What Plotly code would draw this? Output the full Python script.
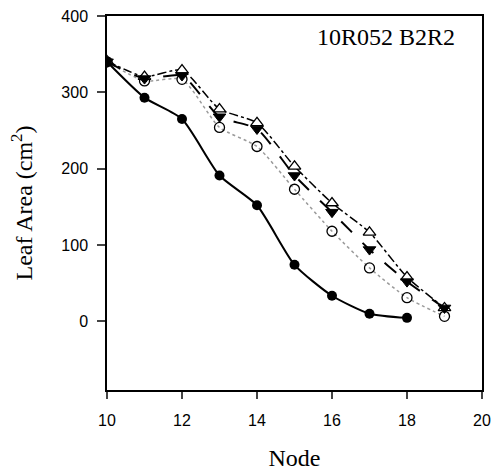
import plotly.graph_objects as go

nodes_a = [10, 11, 12, 13, 14, 15, 16, 17, 18]
filled_circle = [340, 293, 265, 191, 152, 74, 33.5, 10, 4.5]

nodes_b = [10, 11, 12, 13, 14, 15, 16, 17, 18, 19]
open_circle = [340, 315, 317, 254, 229, 173, 118, 70, 31, 6.5]
filled_tri = [340, 318, 322, 268, 252, 191, 143, 94, 52, 17.5]
open_tri = [341, 320.5, 329, 278, 260, 203, 155, 116.5, 58, 17.5]

x_ticks = [10, 12, 14, 16, 18, 20]
y_ticks = [0, 100, 200, 300, 400]

SERIF = "Liberation Serif, Times New Roman, serif"
SANS = "Liberation Sans, Arial, sans-serif"

fig = go.Figure()

fig.add_trace(go.Scatter(
    x=nodes_b, y=open_circle, mode="lines+markers",
    line=dict(color="#9a9a9a", width=1.5, dash="dot", shape="spline", smoothing=0.6),
    marker=dict(symbol="circle-open", size=10, color="black", line=dict(width=1.3, color="black")),
    showlegend=False))

fig.add_trace(go.Scatter(
    x=nodes_b, y=open_tri, mode="lines+markers",
    line=dict(color="black", width=1.5, dash="dashdot", shape="spline", smoothing=0.6),
    marker=dict(symbol="triangle-up", size=11, color="white", line=dict(width=1.3, color="black")),
    showlegend=False))

fig.add_trace(go.Scatter(
    x=nodes_b, y=filled_tri, mode="lines+markers",
    line=dict(color="black", width=2, dash="longdash", shape="spline", smoothing=0.6),
    marker=dict(symbol="triangle-down", size=11, color="black", line=dict(width=1, color="black")),
    showlegend=False))

fig.add_trace(go.Scatter(
    x=nodes_a, y=filled_circle, mode="lines+markers",
    line=dict(color="black", width=2, shape="spline", smoothing=0.6),
    marker=dict(symbol="circle", size=10, color="black"),
    showlegend=False))

fig.add_annotation(
    x=0.933, y=0.984, xref="paper", yref="paper", xanchor="right", yanchor="top",
    text="10R052 B2R2", showarrow=False,
    font=dict(family=SERIF, size=24, color="black"))

fig.update_layout(
    width=493, height=475,
    margin=dict(l=107, r=11, t=16, b=85),
    paper_bgcolor="white", plot_bgcolor="white",
    xaxis=dict(
        range=[10, 20], tickvals=x_ticks, ticks="outside", ticklen=7, tickwidth=1.5,
        showline=True, linecolor="black", linewidth=1.5, mirror=True,
        showgrid=False, zeroline=False, ticklabelstandoff=8, automargin=False,
        tickfont=dict(family=SANS, size=16, color="black"),
        title=dict(text="Node", standoff=21,
                   font=dict(family=SERIF, size=24, color="black"))),
    yaxis=dict(
        range=[-90, 400], tickvals=y_ticks, ticks="outside", ticklen=8, tickwidth=1.5,
        showline=True, linecolor="black", linewidth=1.5, mirror=True,
        showgrid=False, zeroline=False, ticklabelstandoff=6, automargin=False,
        tickfont=dict(family=SANS, size=16, color="black"),
        title=dict(text="Leaf Area (cm<sup>2</sup>)", standoff=22,
                   font=dict(family=SERIF, size=24, color="black"))),
)

fig.write_html("out.html")
